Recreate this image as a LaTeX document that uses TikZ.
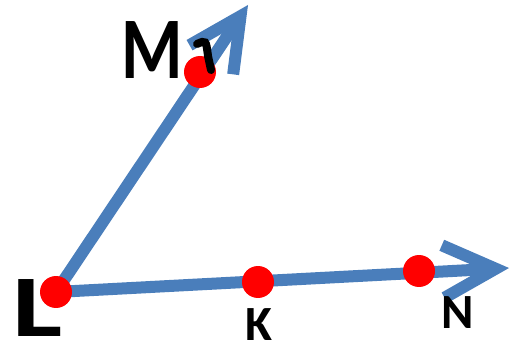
\documentclass[tikz,border=0pt]{standalone}
\usepackage{fontspec}
\setmainfont{Carlito}
\usetikzlibrary{arrows.meta,backgrounds}
\definecolor{raysblue}{HTML}{4A7EBB}
\definecolor{dotred}{HTML}{FF0000}
\tikzstyle{dot} = [circle, fill=dotred, inner sep=0pt, minimum size=0.64cm]
\tikzstyle{ray} = [-{Straight Barb[length=1.05cm, width=1.05cm]}, raysblue, line width=0.24cm]
\tikzstyle{hand} = [font=\fontsize{50}{50}\selectfont\bfseries, inner sep=0pt]
\tikzstyle{lbl} = [font=\fontsize{28}{28}\selectfont\bfseries, inner sep=0pt]

\begin{document}
\begin{tikzpicture}[x=0.02cm, y=-0.02cm]
\useasboundingbox (0,0) rectangle (510,347);
% points on the rays
\node[dot] (L) at (56,292) {};
\node[dot] (M) at (200,72) {};
\node[dot] (K) at (258,282) {};
\node[dot] (N) at (419,271) {};
\coordinate (Mtip) at (248,5);
\coordinate (Ntip) at (509,268);
\begin{scope}[on background layer]
\draw[ray] (L.center) -- (Mtip);
\draw[ray] (L.center) -- (Ntip);
\end{scope}
% labels
\node[hand, xscale=0.8] (Mlabel) at (152,50) {M};
\node[hand, xscale=1.35] (Llabel) at (38,308) {L};
\node[lbl] (Klabel) at (259,325) {K};
\node[lbl] (Nlabel) at (458,313) {N};
\draw[line width=0.16cm, line cap=round] (197,44) .. controls (206,40) .. (208,56) -- (211,70);
\end{tikzpicture}
\end{document}
